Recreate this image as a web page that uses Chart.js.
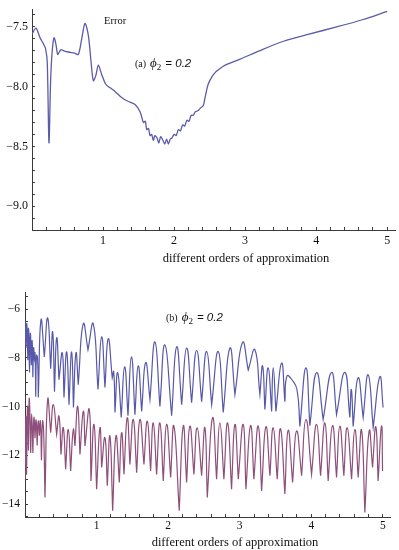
<!DOCTYPE html>
<html><head><meta charset="utf-8">
<script src="https://cdn.jsdelivr.net/npm/chart.js@4/dist/chart.umd.min.js"></script>
<style>
html,body{margin:0;padding:0;background:#fff;}
#wrap{position:relative;width:399px;height:550px;overflow:hidden;background:#fff;}
canvas{position:absolute;left:0;}
.t{position:absolute;white-space:nowrap;color:#111;font-family:"Liberation Serif","DejaVu Serif",serif;line-height:1;}
.c{text-align:center;}
</style></head><body>
<div id="wrap">
<canvas id="c1" width="399" height="275" style="top:0"></canvas>
<canvas id="c2" width="399" height="275" style="top:275px"></canvas>
<div class="t" style="left:104px;top:16px;font-size:10.5px">Error</div>
<div class="t" style="left:135px;top:54px;"><span style="font-size:10px">(a)</span> <span style="font-style:italic;font-size:13px">ϕ</span><span style="font-size:9px;position:relative;top:3px">2</span> <span style="font-family:'Liberation Sans',sans-serif;font-style:italic;font-size:11.5px">= 0.2</span></div>
<div class="t c" style="left:126px;width:240px;top:252px;font-size:12.5px">different orders of approximation</div>
<div class="t" style="left:166px;top:308px;"><span style="font-size:10px">(b)</span> <span style="font-style:italic;font-size:13px">ϕ</span><span style="font-size:9px;position:relative;top:3px">2</span> <span style="font-family:'Liberation Sans',sans-serif;font-style:italic;font-size:11.5px">= 0.2</span></div>
<div class="t c" style="left:115px;width:240px;top:536px;font-size:12.5px">different orders of approximation</div>
</div>
<script>
// ---------- data ----------
// panel (a)
const topX = [0.0,0.056,0.113,0.159,0.19,0.215,0.239,0.262,0.285,0.31,0.335,0.362,0.385,0.408,0.45,0.511,0.6,0.652,0.7,0.746,0.793,0.831,0.863,0.897,0.934,0.982,1.038,1.1,1.169,1.24,1.31,1.38,1.451,1.521,1.568,1.595,1.615,1.64,1.662,1.685,1.708,1.73,1.76,1.785,1.81,1.835,1.87,1.895,1.92,1.945,1.97,2.0,2.03,2.06,2.09,2.12,2.15,2.18,2.21,2.24,2.27,2.3,2.34,2.37,2.41,2.44,2.48,2.53,2.58,2.62,2.72,2.93,3.2,3.54,3.9,4.29,4.65,5.0];
const topY = [-7.56,-7.51,-7.59,-7.64,-7.68,-7.8,-8.47,-7.95,-7.7,-7.59,-7.64,-7.73,-7.71,-7.69,-7.7,-7.71,-7.72,-7.73,-7.6,-7.47,-7.57,-7.79,-7.95,-7.91,-7.82,-7.9,-7.98,-8.01,-8.04,-8.08,-8.11,-8.13,-8.15,-8.21,-8.30,-8.29,-8.36,-8.35,-8.41,-8.40,-8.45,-8.41,-8.43,-8.47,-8.42,-8.44,-8.48,-8.44,-8.48,-8.44,-8.43,-8.40,-8.41,-8.36,-8.37,-8.32,-8.33,-8.28,-8.29,-8.24,-8.24,-8.21,-8.20,-8.18,-8.16,-8.08,-7.98,-7.92,-7.88,-7.86,-7.82,-7.77,-7.70,-7.62,-7.56,-7.5,-7.44,-7.37];

// panel (b) – blue series
const blueX = [0,0.014,0.025,0.04,0.05,0.063,0.075,0.088,0.1,0.11,0.12,0.13,0.14,0.15,0.16,0.175,0.186,0.223,0.27,0.317,0.359,0.387,0.412,0.443,0.475,0.521,0.545,0.582,0.615,0.652,0.677,0.712,0.744,0.814,0.88,0.954,1.02,1.071,1.117,1.163,1.219,1.24,1.257,1.295,1.345,1.392,1.439,1.487,1.536,1.582,1.63,1.686,1.746,1.816,1.885,1.955,2.049,2.119,2.189,2.258,2.328,2.398,2.468,2.538,2.608,2.7,2.77,2.863,2.933,3.04,3.119,3.212,3.282,3.32,3.352,3.398,3.446,3.468,3.506,3.585,3.631,3.66,3.73,3.80,3.841,3.925,3.98,4.074,4.166,4.283,4.353,4.469,4.539,4.56,4.585,4.655,4.725,4.795,4.865,4.958,5.004];
const blueY = [-6.5,-7.6,-6.6,-8.1,-6.8,-8.6,-7.0,-8.3,-7.3,-8.8,-7.6,-8.0,-7.8,-9.6,-7.9,-8.0,-9.63,-6.45,-7.96,-6.37,-8.45,-6.94,-9.39,-7.18,-8.9,-7.8,-9.63,-7.76,-9.92,-7.76,-10.04,-7.8,-9.1,-6.61,-7.67,-6.61,-9.3,-7.14,-9.22,-7.22,-8.82,-8.57,-10.24,-8.61,-10.45,-8.37,-10.37,-7.96,-10.33,-8.33,-10.2,-8.2,-9.71,-7.35,-10.0,-7.47,-10.37,-7.55,-9.92,-7.6,-9.84,-7.7,-9.8,-7.74,-9.92,-7.74,-10.24,-7.6,-9.51,-7.37,-8.5,-7.67,-9.51,-8.33,-10.12,-8.41,-10.2,-8.41,-10.2,-8.22,-9.8,-8.75,-8.9,-9.3,-10.82,-8.41,-10.78,-8.61,-10.53,-8.6,-10.33,-8.6,-10.45,-9.3,-10.82,-8.82,-10.45,-8.7,-10.86,-8.78,-10.04];

// panel (b) – purple series
const pinkX = [0,0.012,0.022,0.035,0.048,0.06,0.08,0.093,0.11,0.125,0.14,0.155,0.17,0.185,0.2,0.215,0.23,0.245,0.26,0.279,0.317,0.359,0.396,0.442,0.475,0.503,0.535,0.568,0.605,0.638,0.675,0.698,0.736,0.768,0.815,0.838,0.898,0.922,0.964,1.001,1.047,1.071,1.117,1.15,1.187,1.225,1.271,1.318,1.35,1.383,1.429,1.466,1.513,1.56,1.606,1.662,1.709,1.755,1.792,1.839,1.885,1.932,1.979,2.035,2.081,2.155,2.211,2.258,2.304,2.36,2.406,2.468,2.514,2.547,2.621,2.677,2.723,2.779,2.831,2.886,2.933,2.98,3.049,3.087,3.152,3.198,3.259,3.306,3.366,3.422,3.468,3.524,3.571,3.631,3.677,3.739,3.795,3.865,3.925,4.004,4.074,4.13,4.19,4.236,4.297,4.353,4.399,4.455,4.502,4.563,4.609,4.655,4.703,4.749,4.809,4.856,4.902,4.934,4.982,4.996];
const pinkY = [-13.0,-10.4,-12.8,-10.0,-11.8,-9.65,-11.9,-10.3,-11.9,-10.45,-11.3,-10.55,-11.6,-10.6,-11.2,-10.6,-12.2,-10.6,-11.0,-13.73,-9.71,-11.07,-9.92,-11.14,-10.4,-11.96,-10.87,-12.57,-10.94,-12.64,-10.94,-11.62,-9.99,-11.96,-10.19,-11.62,-10.12,-13.05,-10.73,-13.39,-10.87,-12.5,-11.28,-13.25,-11.21,-14.27,-11.21,-13.11,-11.07,-12.78,-10.46,-12.37,-10.53,-12.71,-10.53,-12.37,-10.6,-12.64,-10.67,-12.78,-10.67,-13.05,-10.73,-12.91,-10.8,-14.27,-10.8,-13.11,-10.8,-12.78,-10.87,-12.84,-10.87,-13.73,-10.46,-12.98,-10.67,-12.98,-10.67,-13.39,-10.73,-12.98,-10.73,-13.39,-10.78,-12.98,-10.8,-13.46,-10.83,-12.84,-10.87,-12.98,-10.91,-13.59,-10.97,-13.11,-11.0,-12.84,-10.53,-12.78,-10.73,-12.84,-10.67,-13.05,-10.78,-12.91,-10.8,-12.84,-10.87,-12.98,-10.94,-12.91,-10.97,-14.34,-11.0,-12.5,-10.83,-13.05,-10.8,-12.64];

// ticks
const xTicks = [0.2,0.4,0.6,0.8,1,1.2,1.4,1.6,1.8,2,2.2,2.4,2.6,2.8,3,3.2,3.4,3.6,3.8,4,4.2,4.4,4.6,4.8,5];
const xLabels = [1,2,3,4,5];
const topYTicks = [-9.2,-9.1,-9.0,-8.9,-8.8,-8.7,-8.6,-8.5,-8.4,-8.3,-8.2,-8.1,-8.0,-7.9,-7.8,-7.7,-7.6,-7.5,-7.4];
const topYLabels = [-9.0,-8.5,-8.0,-7.5];
const botYTicks = [-14.5,-14,-13.5,-13,-12.5,-12,-11.5,-11,-10.5,-10,-9.5,-9,-8.5,-8,-7.5,-7,-6.5,-6,-5.5];
const botYLabels = [-14,-12,-10,-8,-6];

// ---------- build ----------
const AX = '#3a3a3a';
const near = (a, list) => list.some(v => Math.abs(v - a) < 1e-6);
function pts(xs, ys) { return xs.map((x, i) => ({x, y: ys[i]})); }
function notched(xs, ys) {
  const out = [];
  for (let i = 0; i < xs.length; i++) {
    out.push({x: xs[i], y: ys[i]});
    if (i > 0 && i < xs.length - 1 && ys[i] < ys[i-1] && ys[i] < ys[i+1]) out.push({x: xs[i], y: ys[i]});
  }
  return out;
}
function axis(opts) {
  return {
    type: 'linear', min: opts.min, max: opts.max,
    afterBuildTicks: s => { s.ticks = opts.ticks.map(v => ({value: v})); },
    afterFit: s => {
      opts.fit(s);
      s.paddingTop = 0; s.paddingBottom = 0; s.paddingLeft = 0; s.paddingRight = 0;
    },
    grid: {drawOnChartArea: false, drawTicks: true, tickLength: -3, tickColor: AX, tickWidth: 1},
    border: {display: true, color: AX, width: 1},
    ticks: {
      autoSkip: false, maxRotation: 0, minRotation: 0, padding: opts.pad, color: '#111',
      font: {family: 'Liberation Serif', size: opts.size},
      callback: v => near(v, opts.labels) ? opts.fmt(v) : ''
    }
  };
}
const minus = s => s.replace('-', '\u2212');

new Chart(document.getElementById('c1'), {
  type: 'line',
  data: {datasets: [{data: pts(topX, topY), borderColor: '#5b5bab', borderWidth: 1.3, pointRadius: 0, tension: 0.3, fill: false}]},
  options: {
    responsive: false, animation: false, events: [],
    layout: {padding: {left: 0, right: 4, top: 9, bottom: 0}},
    plugins: {legend: {display: false}, tooltip: {enabled: false}},
    scales: {
      x: axis({min: 0, max: 5.11, ticks: xTicks, labels: xLabels, fmt: v => String(Math.round(v)), pad: 7, size: 12, fit: s => { s.height = 45; }}),
      y: axis({min: -9.2, max: -7.35, ticks: topYTicks, labels: topYLabels, fmt: v => minus(v.toFixed(1)), pad: 7, size: 12, fit: s => { s.width = 32; }})
    }
  }
});

new Chart(document.getElementById('c2'), {
  type: 'line',
  data: {datasets: [
    {data: notched(pinkX, pinkY), borderColor: '#8e4f7c', borderWidth: 1.2, pointRadius: 0, tension: 0.5, fill: false},
    {data: notched(blueX, blueY), borderColor: '#5858aa', borderWidth: 1.2, pointRadius: 0, tension: 0.5, fill: false}
  ]},
  options: {
    responsive: false, animation: false, events: [],
    layout: {padding: {left: 0, right: 9, top: 17, bottom: 0}},
    plugins: {legend: {display: false}, tooltip: {enabled: false}},
    scales: {
      x: axis({min: 0, max: 5.1, ticks: xTicks, labels: xLabels, fmt: v => String(Math.round(v)), pad: 5, size: 11.5, fit: s => { s.height = 33; }}),
      y: axis({min: -14.53, max: -5.3, ticks: botYTicks, labels: botYLabels, fmt: v => minus(String(v)), pad: 8, size: 11.5, fit: s => { s.width = 25; }})
    }
  }
});
</script>
</body></html>
